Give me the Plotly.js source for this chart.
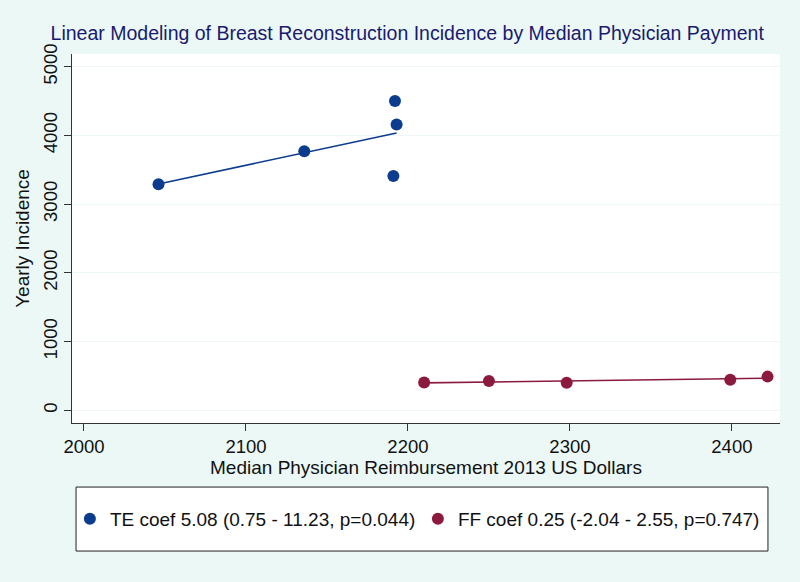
<!DOCTYPE html>
<html>
<head>
<meta charset="utf-8">
<script src="https://cdn.plot.ly/plotly-3.0.1.min.js"></script>
<style>html,body{margin:0;padding:0;background:#ebf8f6;}#chart{width:800px;height:582px;}</style>
</head>
<body>
<div id="chart"></div>
<script>
// Data
const teX = [2046, 2136, 2192, 2193, 2191];
const teY = [3290, 3770, 4500, 4160, 3410];
const ffX = [2210, 2250, 2298, 2399, 2422];
const ffY = [405, 425, 400, 445, 490];
const teLabel = "TE coef 5.08 (0.75 - 11.23, p=0.044)";
const ffLabel = "FF coef 0.25 (-2.04 - 2.55, p=0.747)";
const xTicks = [2000, 2100, 2200, 2300, 2400];
const yTicks = [0, 1000, 2000, 3000, 4000, 5000];

// ordinary least squares fit line over the observed x range
function fitLine(xs, ys) {
  const n = xs.length;
  const mx = xs.reduce((a, b) => a + b, 0) / n;
  const my = ys.reduce((a, b) => a + b, 0) / n;
  let sxy = 0, sxx = 0;
  for (let i = 0; i < n; i++) { sxy += (xs[i] - mx) * (ys[i] - my); sxx += (xs[i] - mx) ** 2; }
  const b = sxy / sxx, a = my - b * mx;
  const x0 = Math.min(...xs), x1 = Math.max(...xs);
  return { x: [x0, x1], y: [a + b * x0, a + b * x1] };
}

const blue = "#0c3c8e";
const red = "#8c1a3e";
const teFit = fitLine(teX, teY);
const ffFit = fitLine(ffX, ffY);
const font = "Liberation Sans, Arial, Helvetica, sans-serif";

const traces = [
  { x: teX, y: teY, type: "scatter", mode: "markers", name: teLabel,
    marker: { color: blue, size: 12 }, hoverinfo: "skip" },
  { x: ffX, y: ffY, type: "scatter", mode: "markers", name: ffLabel,
    marker: { color: red, size: 12 }, hoverinfo: "skip" },
  { x: teFit.x, y: teFit.y, type: "scatter", mode: "lines", showlegend: false,
    line: { color: blue, width: 1.6 }, hoverinfo: "skip" },
  { x: ffFit.x, y: ffFit.y, type: "scatter", mode: "lines", showlegend: false,
    line: { color: red, width: 1.6 }, hoverinfo: "skip" }
];

const layout = {
  width: 800, height: 582,
  paper_bgcolor: "#ebf8f6", plot_bgcolor: "#ffffff",
  margin: { l: 72, r: 20, t: 54, b: 159 },
  font: { family: font, size: 19, color: "#111111" },
  title: { text: "Linear Modeling of Breast Reconstruction Incidence by Median Physician Payment",
    font: { family: font, size: 19.5, color: "#1a1a6e" },
    x: 0.509, xref: "container", xanchor: "center", y: 0.943, yref: "container", yanchor: "middle" },
  xaxis: { range: [1992.6, 2429.7], tickvals: xTicks, ticktext: xTicks.map(String),
    showgrid: false, zeroline: false, showline: true, linecolor: "#333333", linewidth: 1,
    ticks: "outside", ticklen: 7, tickcolor: "#333333",
    tickfont: { size: 18.5, color: "#111111" },
    title: { text: "Median Physician Reimbursement 2013 US Dollars", font: { size: 19, color: "#111111" }, standoff: 4 } },
  yaxis: { range: [-185, 5185], tickvals: yTicks, ticktext: yTicks.map(String), tickangle: -90,
    showgrid: true, gridcolor: "#ecf7f6", gridwidth: 1, zeroline: false,
    showline: true, linecolor: "#333333", linewidth: 1,
    ticks: "outside", ticklen: 7, tickcolor: "#333333",
    tickfont: { size: 18.5, color: "#111111" },
    title: { text: "Yearly Incidence", font: { size: 19, color: "#111111" }, standoff: 4 } },
  showlegend: true,
  legend: { orientation: "h", x: -0.003, xanchor: "left", y: -0.26, yanchor: "middle",
    bgcolor: "rgba(0,0,0,0)", borderwidth: 0, font: { size: 19, color: "#111111" },
    entrywidth: 303, entrywidthmode: "pixels", itemclick: false },
  shapes: [
    { type: "rect", xref: "paper", yref: "paper", x0: 0.0057, x1: 0.983, y0: -0.1736, y1: -0.347,
      line: { color: "#222222", width: 1 }, fillcolor: "#ffffff", layer: "below" }
  ]
};

Plotly.newPlot("chart", traces, layout, { displayModeBar: false, staticPlot: true });
</script>
</body>
</html>
